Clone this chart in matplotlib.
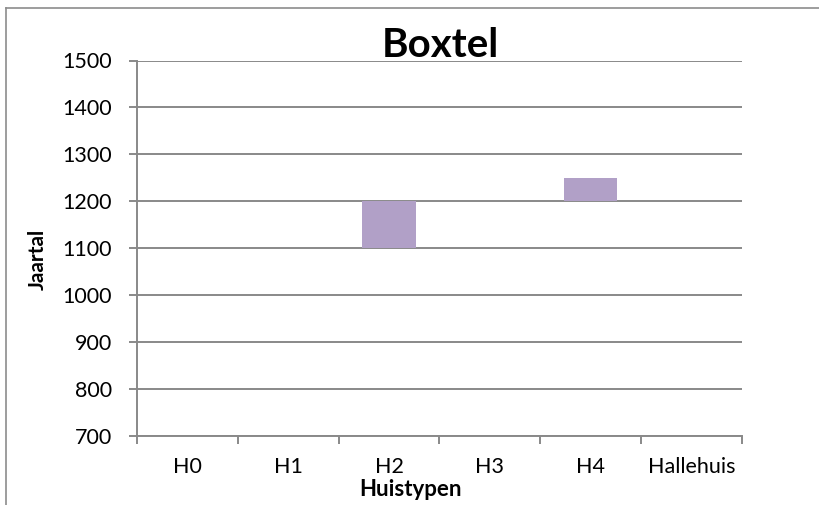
import matplotlib
matplotlib.use("Agg")
import matplotlib.pyplot as plt
from matplotlib.lines import Line2D
import numpy as np

categories = ["H0", "H1", "H2", "H3", "H4", "Hallehuis"]
start_year = [np.nan, np.nan, 1100, np.nan, 1200, np.nan]
end_year = [np.nan, np.nan, 1200, np.nan, 1250, np.nan]
y_ticks = [700, 800, 900, 1000, 1100, 1200, 1300, 1400, 1500]

plt.rcParams['font.family'] = ['Lato', 'DejaVu Sans']
W, H = 820, 505
PT = 72 / 100  # points per pixel
fig = plt.figure(figsize=(W/100, H/100), dpi=100)
ax = fig.add_axes([137/W, 1-436/H, (742-137)/W, (436-60.5)/H])

grid_c = "#898989"
x = np.arange(len(categories))
heights = [e - s for s, e in zip(start_year, end_year)]
ax.bar(x, heights, bottom=start_year, width=0.53, color="#B1A0C7", zorder=3)

ax.set_xlim(-0.5, len(categories) - 0.5)
ax.set_ylim(700, 1500)
ax.set_yticks(y_ticks)
ax.yaxis.grid(True, color=grid_c, linewidth=1.4, zorder=0)
ax.set_axisbelow(True)

ax.set_xticks(np.arange(len(categories) + 1) - 0.5)
ax.set_xticklabels([])
ax.set_xticks(x, minor=True)
ax.set_xticklabels(categories, minor=True, fontsize=15.5)
ax.tick_params(axis='x', which='minor', length=0, pad=21*PT)
ax.tick_params(axis='x', which='major', length=8*PT, color=grid_c, width=1.4, direction='out')
ax.tick_params(axis='y', length=8*PT, color=grid_c, width=1.4, labelsize=15.5, pad=17*PT)

for s in ["top", "right"]:
    ax.spines[s].set_visible(False)
for s in ["left", "bottom"]:
    ax.spines[s].set_color(grid_c)
    ax.spines[s].set_linewidth(1.4)

fig.text(38/W, 1-259/H, "Jaartal", fontsize=15, fontweight='bold', ha='center', va='center', rotation=90)
fig.text(411/W, 1-496/H, "Huistypen", fontsize=16, fontweight='bold', ha='center', va='baseline')
fig.text(440/W, 1-57/H, "Boxtel", fontsize=29, fontweight='bold', ha='center', va='baseline')

# outer chart frame
fig.add_artist(Line2D([6.5/W, 6.5/W], [0, 1-8/H], color="#8c8c8c", linewidth=1.2))
fig.add_artist(Line2D([6.5/W, 1], [1-8/H, 1-8/H], color="#8c8c8c", linewidth=1.2))

fig.savefig("out.png", dpi=100)
